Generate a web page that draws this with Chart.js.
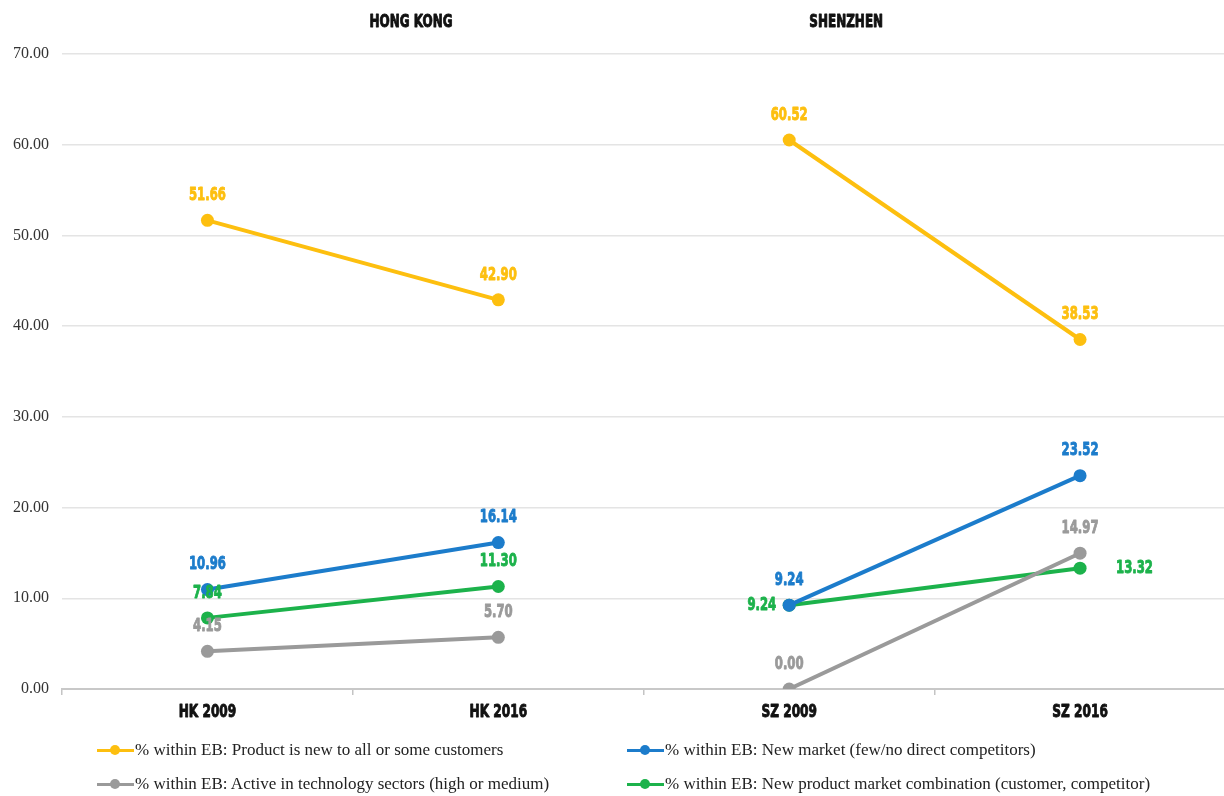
<!DOCTYPE html>
<html>
<head>
<meta charset="utf-8">
<title>Hong Kong / Shenzhen</title>
<script src="https://cdn.jsdelivr.net/npm/chart.js@4/dist/chart.umd.min.js"></script>
<style>
  body { margin: 0; background: #fff; }
  .wrap { position: relative; width: 1224px; height: 796px; overflow: hidden; }
  .plot { position: absolute; left: 0; top: 0; width: 1232px; height: 730px; }
  .legend { position: absolute; left: 0; top: 0; width: 1224px; height: 796px; pointer-events: none;
            font-family: 'Liberation Serif', 'DejaVu Serif', serif; font-size: 17px; color: #222; }
  .legend .item { position: absolute; display: flex; align-items: center; white-space: nowrap; transform: translateY(-50%); }
  .legend .mark { position: relative; width: 37px; height: 12px; margin-right: 1px; }
  .legend .mark i { position: absolute; left: 0; right: 0; top: 5px; height: 3px; }
  .legend .mark b { position: absolute; left: 13px; top: 1px; width: 10px; height: 10px; border-radius: 50%; }
</style>
</head>
<body>
<div class="wrap">
  <div class="plot"><canvas id="chart"></canvas></div>
  <div class="legend" id="legend"></div>
</div>
<script>
// --- data ---
const categories = ['HK 2009', 'HK 2016', 'SZ 2009', 'SZ 2016'];
const regionTitles = ['HONG KONG', 'SHENZHEN'];

const productNew = [51.66, 42.90, 60.52, 38.53];
const newMarket  = [10.96, 16.14, 9.24, 23.52];
const techActive = [4.15, 5.70, 0.00, 14.97];
const newCombo   = [7.84, 11.30, 9.24, 13.32];

const seriesNames = [
  '% within EB: Product is new to all or some customers',
  '% within EB: New market (few/no direct competitors)',
  '% within EB: Active in technology sectors (high or medium)',
  '% within EB: New product market combination (customer, competitor)',
];

const yMax = 70;
const yStep = 10;

// --- styles ---
const YELLOW = '#FDBF0F';
const BLUE = '#1C7CCB';
const GREY = '#9A9A9A';
const GREEN = '#1CB24B';
const CONDENSED = "'DejaVu Sans Condensed', 'DejaVu Sans', sans-serif";

// no narrow heavy font installed, so squeeze the bold one sideways and thicken it a bit
function narrowText(ctx, txt, x, y, align, sx) {
  ctx.save();
  ctx.translate(x, y);
  ctx.scale(sx, 1);
  ctx.textAlign = align;
  ctx.lineWidth = 0.9;
  ctx.lineJoin = 'round';
  ctx.strokeStyle = ctx.fillStyle;
  ctx.strokeText(txt, 0, 0);
  ctx.fillText(txt, 0, 0);
  ctx.restore();
}

function series(label, data, color, labelSide) {
  return {
    label: label,
    data: data,
    borderColor: color,
    backgroundColor: color,
    pointBackgroundColor: color,
    pointBorderWidth: 0,
    pointRadius: 6.5,
    pointHoverRadius: 6.5,
    borderWidth: 4,
    tension: 0,
    labelSide: labelSide || [],
    // no line between the two regions
    segment: {
      borderColor: (ctx) => (ctx.p0DataIndex === 1 ? 'rgba(0,0,0,0)' : undefined),
    },
  };
}

const datasets = [
  series(seriesNames[0], productNew, YELLOW),
  series(seriesNames[1], newMarket, BLUE),
  series(seriesNames[2], techActive, GREY),
  series(seriesNames[3], newCombo, GREEN, [null, null, 'left', 'right']),
];

// value labels next to each point
const valueLabels = {
  id: 'valueLabels',
  afterDatasetsDraw(chart) {
    const ctx = chart.ctx;
    ctx.save();
    ctx.font = 'bold 18px ' + CONDENSED;
    ctx.textBaseline = 'middle';
    chart.data.datasets.forEach((ds, i) => {
      const meta = chart.getDatasetMeta(i);
      meta.data.forEach((pt, j) => {
        const side = ds.labelSide[j];
        const txt = ds.data[j].toFixed(2);
        ctx.fillStyle = ds.borderColor;
        if (side === 'left') {
          narrowText(ctx, txt, pt.x - 13, pt.y, 'right', 0.72);
        } else if (side === 'right') {
          narrowText(ctx, txt, pt.x + 36, pt.y, 'left', 0.72);
        } else {
          narrowText(ctx, txt, pt.x, pt.y - 25, 'center', 0.72);
        }
      });
    });
    ctx.restore();
  },
};

// region headings and category names, drawn squeezed
const headings = {
  id: 'headings',
  afterDraw(chart) {
    const { ctx, chartArea } = chart;
    const w = chartArea.right - chartArea.left;
    const at = [0.300, 0.674];
    ctx.save();
    ctx.fillStyle = '#111';
    ctx.textBaseline = 'middle';
    ctx.font = 'bold 18px ' + CONDENSED;
    regionTitles.forEach((t, i) => narrowText(ctx, t, chartArea.left + w * at[i], 22, 'center', 0.74));

    const xs = chart.scales.x;
    xs.ticks.forEach((tk, i) => {
      narrowText(ctx, xs.getLabelForValue(tk.value), xs.getPixelForTick(i), chartArea.bottom + 23, 'center', 0.75);
    });
    ctx.restore();
  },
};

new Chart(document.getElementById('chart'), {
  type: 'line',
  data: { labels: categories, datasets: datasets },
  options: {
    responsive: true,
    maintainAspectRatio: false,
    animation: false,
    layout: { padding: { top: 54, right: 2, left: 0, bottom: 0 } },
    plugins: {
      legend: { display: false },
      tooltip: { enabled: false },
    },
    scales: {
      x: {
        offset: true,
        afterFit: (scale) => { scale.height = 41; },
        grid: { offset: true, drawOnChartArea: false, tickLength: 6, color: '#c4c4c4', lineWidth: 1.5 },
        border: { color: '#c8c8c8', width: 2 },
        ticks: { display: false },
      },
      y: {
        min: 0,
        max: yMax,
        afterFit: (scale) => { scale.width = 62; },
        grid: { color: '#e4e4e4', lineWidth: 1.5, drawTicks: false },
        border: { display: false },
        ticks: {
          stepSize: yStep,
          padding: 13,
          color: '#333',
          font: { family: "'Liberation Serif', 'DejaVu Serif', serif", size: 16 },
          callback: (v) => Number(v).toFixed(2),
        },
      },
    },
  },
  plugins: [valueLabels, headings],
});

// legend: two columns, two rows, built from the datasets
(function buildLegend() {
  const box = document.getElementById('legend');
  const spots = [[97, 750], [627, 750], [97, 784], [627, 784]];
  datasets.forEach((ds, i) => {
    const el = document.createElement('div');
    el.className = 'item';
    el.style.left = spots[i][0] + 'px';
    el.style.top = spots[i][1] + 'px';
    el.innerHTML = '<span class="mark"><i style="background:' + ds.borderColor + '"></i>' +
      '<b style="background:' + ds.borderColor + '"></b></span>' + ds.label;
    box.appendChild(el);
  });
})();
</script>
</body>
</html>
